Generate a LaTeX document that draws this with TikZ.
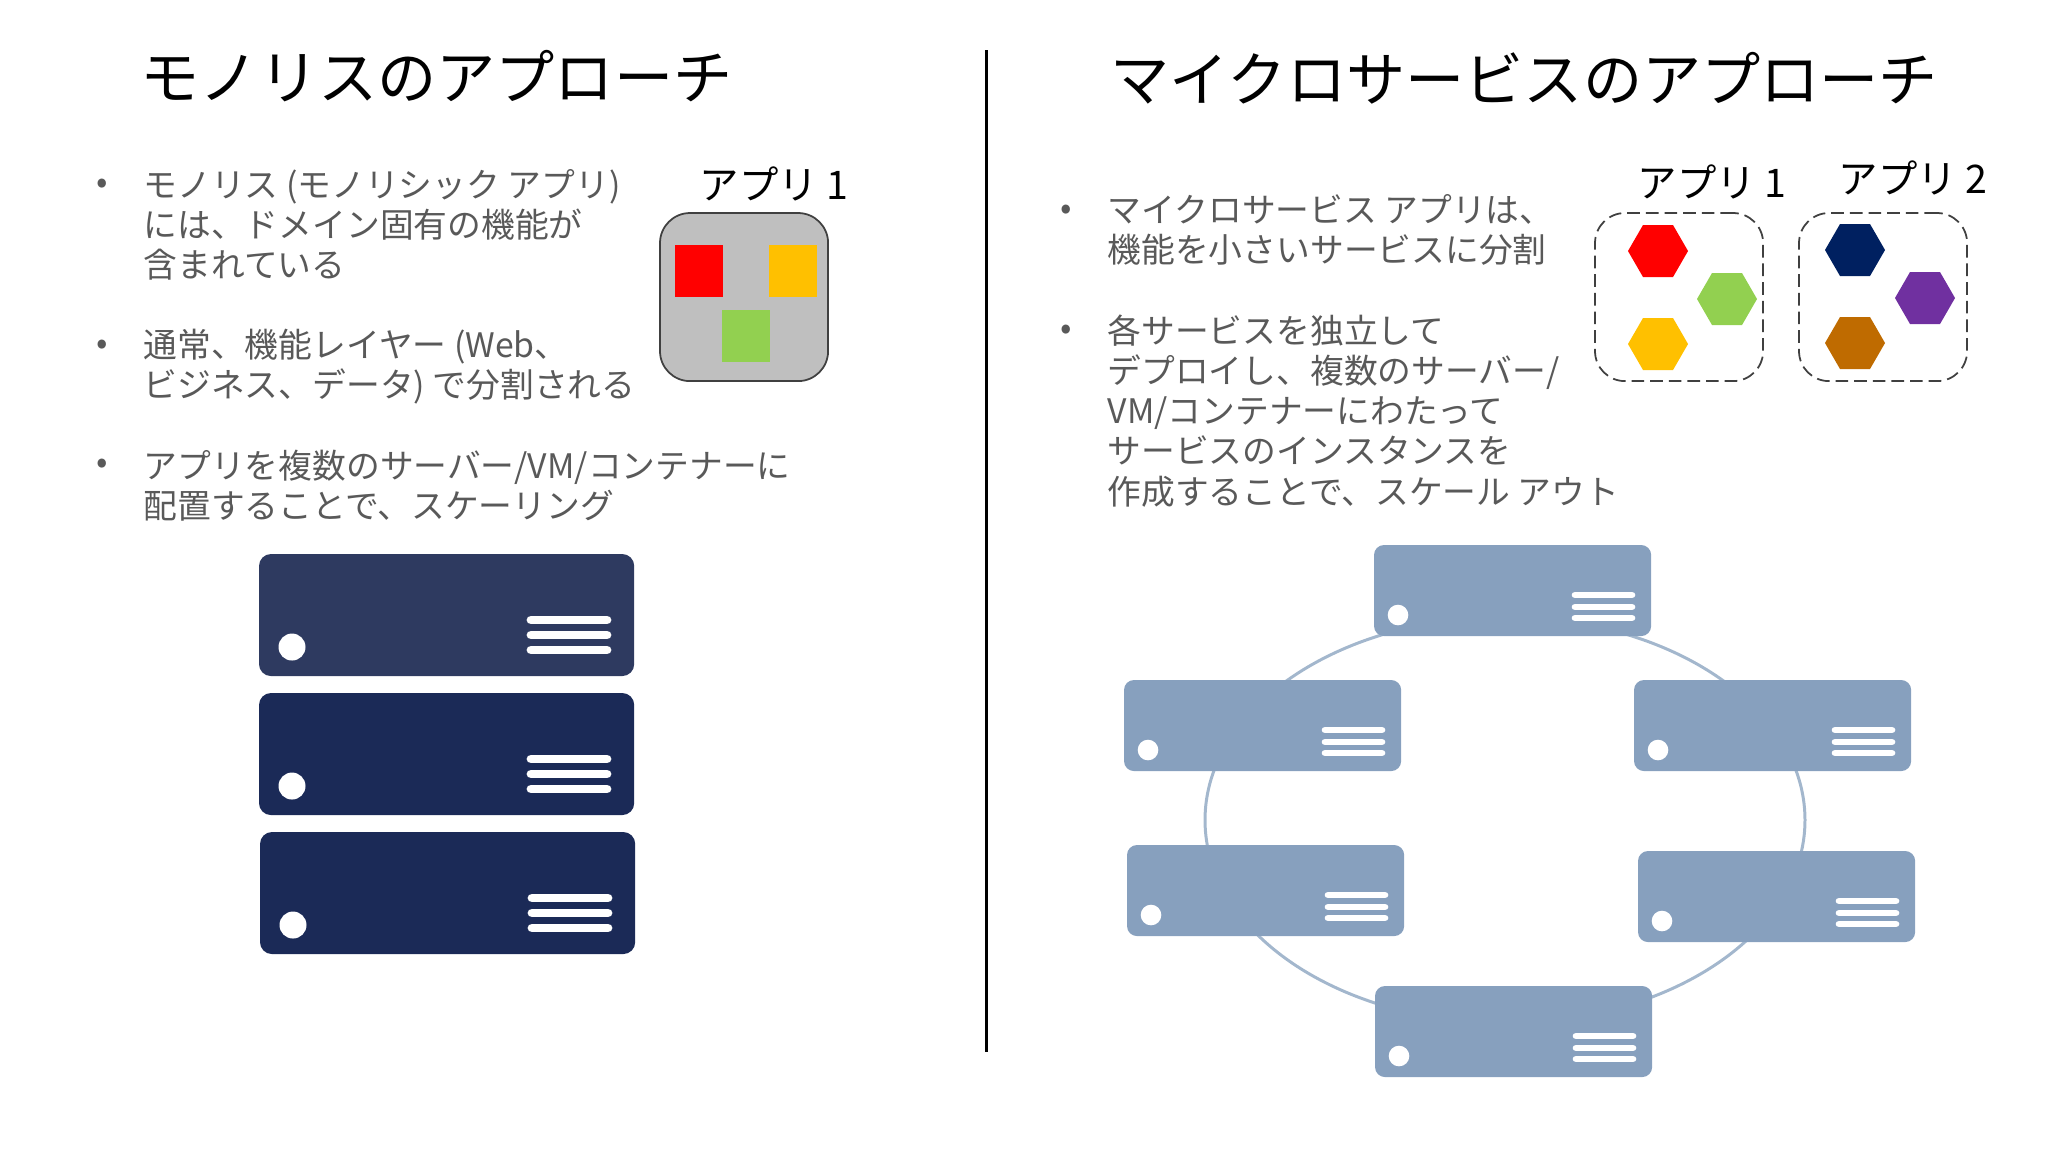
\documentclass[tikz,border=0pt]{standalone}
\usepackage{fontspec}
\setmainfont{Noto Sans CJK JP}
\usetikzlibrary{shapes.geometric}
\definecolor{bodygray}{HTML}{595959}
\definecolor{rackfirst}{HTML}{2E3A60}
\definecolor{racknavy}{HTML}{1B2A57}
\definecolor{rackblue}{HTML}{87A0BE}
\definecolor{ringblue}{HTML}{A3B7CD}
\definecolor{appgray}{HTML}{BFBFBF}
\definecolor{edgegray}{HTML}{404040}
\definecolor{apporange}{HTML}{FFC000}
\definecolor{appgreen}{HTML}{92D050}
\definecolor{appnavy}{HTML}{002060}
\definecolor{apppurple}{HTML}{7030A0}
\definecolor{appbrown}{HTML}{BF6B00}
\tikzset{
    headtext/.style={anchor=west, inner sep=0pt, font=\fontsize{16.83pt}{20pt}\selectfont},
    bodytext/.style={anchor=west, inner sep=0pt, align=left, text=bodygray, font=\fontsize{9.6pt}{11.4pt}\selectfont},
    dottext/.style={inner sep=0pt, text=bodygray, font=\fontsize{9.6pt}{11.4pt}\selectfont},
    applabel/.style={anchor=west, inner sep=0pt, font=\fontsize{11.2pt}{13pt}\selectfont},
    appbox/.style={anchor=north west, inner sep=0pt, outer sep=0pt, minimum width=1.68cm, minimum height=1.68cm, rounded corners=0.3cm, draw=edgegray, line width=0.5pt},
    appsquare/.style={anchor=north west, inner sep=0pt, outer sep=0pt, minimum width=0.475cm, minimum height=0.52cm},
    hexa/.style={regular polygon, regular polygon sides=6, inner sep=0pt, outer sep=0pt, minimum size=0.6cm},
    bigrackbox/.style={anchor=north west, inner sep=0pt, outer sep=0pt, minimum width=3.75cm, minimum height=1.22cm, rounded corners=0.12cm},
    smallrackbox/.style={anchor=north west, inner sep=0pt, outer sep=0pt, minimum width=2.77cm, minimum height=0.91cm, rounded corners=0.1cm, fill=rackblue},
}
\newcommand{\bigrack}[4]{%
\node[bigrackbox, fill=#4] (#1) at (#2,#3) {};
\fill[white] ([shift={(33,93)}]#1.north west) circle (13.5);
\foreach \yy in {66,81,96}
    \draw[white, line width=2.5pt, line cap=round] ([shift={(272,\yy)}]#1.north west) -- ([shift={(348,\yy)}]#1.north west);
}
\newcommand{\smallrack}[3]{%
\node[smallrackbox] (#1) at (#2,#3) {};
\fill[white] ([shift={(24,70)}]#1.north west) circle (10.3);
\foreach \yy in {50,62,73}
    \draw[white, line width=1.9pt, line cap=round] ([shift={(201,\yy)}]#1.north west) -- ([shift={(258,\yy)}]#1.north west);
}

\begin{document}
\begin{tikzpicture}[x=0.01cm, y=-0.01cm]
\useasboundingbox (0,0) rectangle (2048,1153);
% divider
\coordinate (divtop) at (986,50);
\coordinate (divbottom) at (986,1052);
\draw[line width=0.85pt] (divtop) -- (divbottom);
% left side
\node[headtext] (monotitle) at (140,76) {モノリスのアプローチ};
\node[dottext] (monodot1) at (102,186) {•};
\node[bodytext] (monotext1) at (143,225) {モノリス (モノリシック アプリ)\\には、ドメイン固有の機能が\\含まれている};
\node[dottext] (monodot2) at (102,347) {•};
\node[bodytext] (monotext2) at (143,367) {通常、機能レイヤー (Web、\\ビジネス、データ) で分割される};
\node[dottext] (monodot3) at (102,466) {•};
\node[bodytext] (monotext3) at (143,486) {アプリを複数のサーバー/VM/コンテナーに\\配置することで、スケーリング};
\node[applabel] (monolabel) at (699,184) {アプリ 1};
\node[appbox, fill=appgray] (monoapp) at (660,213) {};
\node[appsquare, fill=red] (monored) at (675,245) {};
\node[appsquare, fill=apporange] (monoorange) at (769,245) {};
\node[appsquare, fill=appgreen] (monogreen) at (722,310) {};
\bigrack{rackA}{259}{554}{rackfirst}
\bigrack{rackB}{259}{693}{racknavy}
\bigrack{rackC}{260}{832}{racknavy}
% right side
\node[headtext] (microtitle) at (1110,78) {マイクロサービスのアプローチ};
\node[dottext] (microdot1) at (1066,212) {•};
\node[bodytext] (microtext1) at (1107,230) {マイクロサービス アプリは、\\機能を小さいサービスに分割};
\node[dottext] (microdot2) at (1066,332) {•};
\node[bodytext] (microtext2) at (1107,411) {各サービスを独立して\\デプロイし、複数のサーバー/\\VM/コンテナーにわたって\\サービスのインスタンスを\\作成することで、スケール アウト};
\node[applabel] (microlabel1) at (1637,182) {アプリ 1};
\node[applabel] (microlabel2) at (1838,178) {アプリ 2};
\node[appbox, dash pattern=on 3.6pt off 1.7pt] (microapp1) at (1595,213) {};
\node[appbox, dash pattern=on 3.6pt off 1.7pt] (microapp2) at (1799,213) {};
\node[hexa, fill=red] (hexred) at (1658,251) {};
\node[hexa, fill=appgreen] (hexgreen) at (1727,299) {};
\node[hexa, fill=apporange] (hexorange) at (1658,344) {};
\node[hexa, fill=appnavy] (hexnavy) at (1855,250) {};
\node[hexa, fill=apppurple] (hexpurple) at (1925,298) {};
\node[hexa, fill=appbrown] (hexbrown) at (1855,343) {};
% ring behind the servers
\draw[ringblue, line width=0.85pt] (1505,820) ellipse (300 and 203);
\smallrack{rackN}{1374}{545}
\smallrack{rackNW}{1124}{680}
\smallrack{rackNE}{1634}{680}
\smallrack{rackSW}{1127}{845}
\smallrack{rackSE}{1638}{851}
\smallrack{rackS}{1375}{986}
\end{tikzpicture}
\end{document}
